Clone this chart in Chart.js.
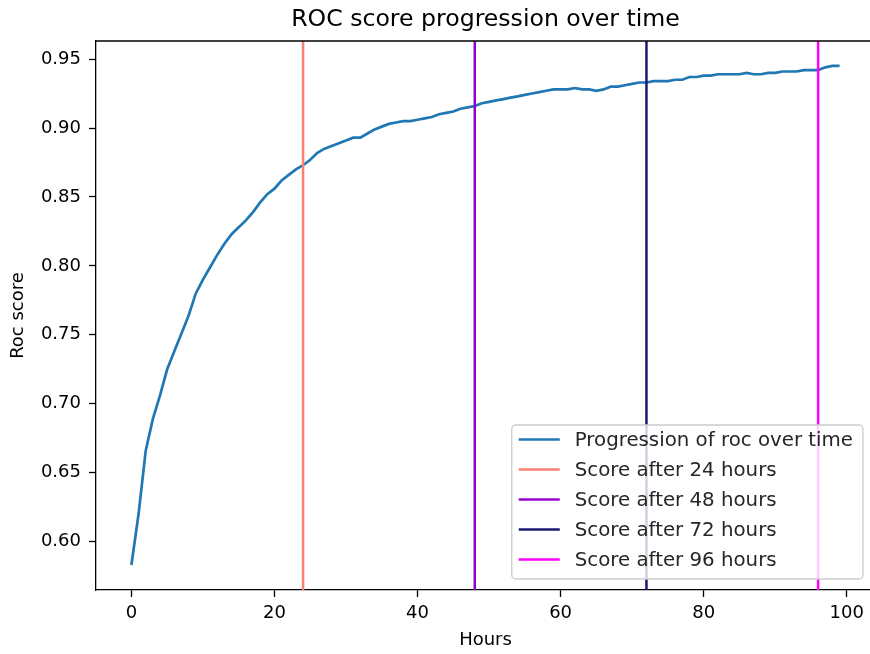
<!DOCTYPE html>
<html lang="en">
<head>
  <meta charset="UTF-8">
  <title>ROC score progression over time</title>
  <script src="https://cdn.jsdelivr.net/npm/chart.js"></script>
  <style>
    html, body {
        margin: 0;
        padding: 0;
        background: #ffffff;
        overflow: hidden;
    }
    #chart-container {
        width: 880px;
        height: 654px;
        position: relative;
    }
  </style>
</head>
<body>

<div id="chart-container">
    <canvas id="rocChart"></canvas>
</div>

<script>
    // hours of training and the roc score reached at each hour
    const hours = [
        0, 1, 2, 3, 4, 5, 6, 7, 8, 9,
        10, 11, 12, 13, 14, 15, 16, 17, 18, 19,
        20, 21, 22, 23, 24, 25, 26, 27, 28, 29,
        30, 31, 32, 33, 34, 35, 36, 37, 38, 39,
        40, 41, 42, 43, 44, 45, 46, 47, 48, 49,
        50, 51, 52, 53, 54, 55, 56, 57, 58, 59,
        60, 61, 62, 63, 64, 65, 66, 67, 68, 69,
        70, 71, 72, 73, 74, 75, 76, 77, 78, 79,
        80, 81, 82, 83, 84, 85, 86, 87, 88, 89,
        90, 91, 92, 93, 94, 95, 96, 97, 98, 99
    ];
    const rocScores = [
        0.583, 0.620, 0.666, 0.689, 0.706, 0.725, 0.738, 0.751, 0.764, 0.780,
        0.790, 0.799, 0.808, 0.816, 0.823, 0.828, 0.833, 0.839, 0.846, 0.852,
        0.856, 0.862, 0.866, 0.870, 0.873, 0.877, 0.882, 0.885, 0.887, 0.889,
        0.891, 0.893, 0.893, 0.896, 0.899, 0.901, 0.903, 0.904, 0.905, 0.905,
        0.906, 0.907, 0.908, 0.910, 0.911, 0.912, 0.914, 0.915, 0.916, 0.918,
        0.919, 0.920, 0.921, 0.922, 0.923, 0.924, 0.925, 0.926, 0.927, 0.928,
        0.928, 0.928, 0.929, 0.928, 0.928, 0.927, 0.928, 0.930, 0.930, 0.931,
        0.932, 0.933, 0.933, 0.934, 0.934, 0.934, 0.935, 0.935, 0.937, 0.937,
        0.938, 0.938, 0.939, 0.939, 0.939, 0.939, 0.940, 0.939, 0.939, 0.940,
        0.940, 0.941, 0.941, 0.941, 0.942, 0.942, 0.942, 0.944, 0.945, 0.945
    ];

    // checkpoints marked with vertical lines
    const checkpointHours = [24, 48, 72, 96];
    const checkpointColors = ['#fa8072', '#9400d3', '#191970', '#ff00ff'];

    const xTicks = [0, 20, 40, 60, 80, 100];
    const yTicks = [0.60, 0.65, 0.70, 0.75, 0.80, 0.85, 0.90, 0.95];

    // axis limits with a 5% margin around the data
    const xPad = (Math.max(...hours) - Math.min(...hours)) * 0.05;
    const xMin = Math.min(...hours) - xPad;
    const xMax = Math.max(...hours) + xPad;
    const yPad = (Math.max(...rocScores) - Math.min(...rocScores)) * 0.05;
    const yMin = Math.min(...rocScores) - yPad;
    const yMax = Math.max(...rocScores) + yPad;

    const FONT = '"DejaVu Sans", sans-serif';

    const datasets = [{
        label: 'Progression of roc over time',
        data: hours.map(function (h, i) { return { x: h, y: rocScores[i] }; }),
        borderColor: '#1f77b4',
        backgroundColor: '#1f77b4',
        borderWidth: 2.7,
        pointRadius: 0,
        fill: false,
        tension: 0,
        order: 10
    }];
    checkpointHours.forEach(function (h, i) {
        datasets.push({
            label: 'Score after ' + h + ' hours',
            data: [{ x: h, y: yMin }, { x: h, y: yMax }],
            borderColor: checkpointColors[i],
            backgroundColor: checkpointColors[i],
            borderWidth: 2.5,
            pointRadius: 0,
            fill: false,
            order: 9 - i
        });
    });

    // top/right spines and the framed legend in the lower right corner
    const framePlugin = {
        id: 'frame',
        afterDatasetsDraw: function (chart) {
            const ctx = chart.ctx;
            const a = chart.chartArea;
            ctx.save();
            ctx.strokeStyle = '#000000';
            ctx.lineWidth = 1.3;
            ctx.beginPath();
            ctx.moveTo(a.left, a.top);
            ctx.lineTo(a.right, a.top);
            ctx.lineTo(a.right, a.bottom);
            ctx.stroke();

            ctx.font = '19.8px ' + FONT;
            const items = chart.data.datasets;
            let textW = 0;
            items.forEach(function (d) {
                textW = Math.max(textW, ctx.measureText(d.label).width);
            });
            const boxW = 7 + 41 + 15 + textW + 10;
            const boxH = 154;
            const right = a.right - 12;
            const bottom = a.bottom - 11;
            const left = right - boxW;
            const top = bottom - boxH;

            ctx.beginPath();
            ctx.roundRect(left, top, boxW, boxH, 4);
            ctx.fillStyle = 'rgba(255,255,255,0.8)';
            ctx.fill();
            ctx.strokeStyle = '#cccccc';
            ctx.lineWidth = 1.3;
            ctx.stroke();

            ctx.textBaseline = 'middle';
            ctx.textAlign = 'left';
            items.forEach(function (d, i) {
                const cy = top + 14.5 + i * 30;
                ctx.strokeStyle = d.borderColor;
                ctx.lineWidth = d.borderWidth;
                ctx.beginPath();
                ctx.moveTo(left + 7, cy);
                ctx.lineTo(left + 48, cy);
                ctx.stroke();
                ctx.fillStyle = '#262626';
                ctx.fillText(d.label, left + 63, cy + 1);
            });
            ctx.restore();
        }
    };

    new Chart(document.getElementById('rocChart'), {
        type: 'line',
        data: { datasets: datasets },
        options: {
            responsive: true,
            maintainAspectRatio: false,
            animation: false,
            layout: { padding: { left: 0, right: 5, top: 0, bottom: 0 } },
            plugins: {
                legend: { display: false },
                tooltip: { enabled: false },
                title: {
                    display: true,
                    fullSize: false,
                    text: 'ROC score progression over time',
                    color: '#000000',
                    font: { family: FONT, size: 23.6, weight: 'normal' },
                    padding: { top: 6, bottom: 6.7 }
                }
            },
            scales: {
                x: {
                    type: 'linear',
                    min: xMin,
                    max: xMax,
                    afterBuildTicks: function (scale) {
                        scale.ticks = xTicks.map(function (v) { return { value: v }; });
                    },
                    afterFit: function (scale) { scale.height = 64; },
                    grid: { drawOnChartArea: false, drawTicks: true, tickLength: 7, color: '#000000', tickWidth: 1.3 },
                    border: { display: true, color: '#000000', width: 1.3 },
                    ticks: {
                        color: '#000000',
                        padding: 6,
                        maxRotation: 0,
                        font: { family: FONT, size: 18 },
                        callback: function (v) { return String(v); }
                    },
                    title: {
                        display: true,
                        text: 'Hours',
                        color: '#000000',
                        font: { family: FONT, size: 18 },
                        padding: { top: 0, bottom: 3 }
                    }
                },
                y: {
                    type: 'linear',
                    min: yMin,
                    max: yMax,
                    afterBuildTicks: function (scale) {
                        scale.ticks = yTicks.map(function (v) { return { value: v }; });
                    },
                    afterFit: function (scale) { scale.width = 96; },
                    grid: { drawOnChartArea: false, drawTicks: true, tickLength: 7, color: '#000000', tickWidth: 1.3 },
                    border: { display: true, color: '#000000', width: 1.3 },
                    ticks: {
                        color: '#000000',
                        padding: 8,
                        font: { family: FONT, size: 18 },
                        callback: function (v) { return v.toFixed(2); }
                    },
                    title: {
                        display: true,
                        text: 'Roc score',
                        color: '#000000',
                        font: { family: FONT, size: 18 },
                        padding: { top: 8, bottom: 0 }
                    }
                }
            }
        },
        plugins: [framePlugin]
    });
</script>
</body>
</html>
